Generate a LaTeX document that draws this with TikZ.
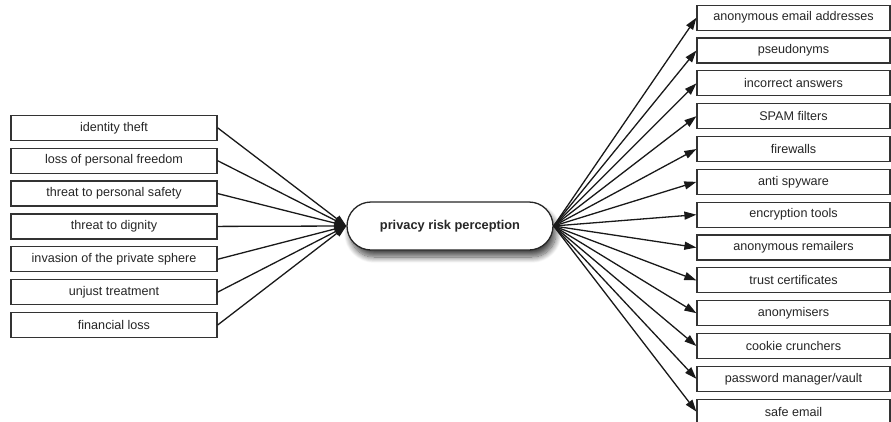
\documentclass[tikz,border=0pt]{standalone}
\usepackage{fontspec}
\setmainfont{Liberation Sans}
\usetikzlibrary{arrows.meta,shadows.blur}

\tikzset{
  itembox/.style={draw=black!80, line width=1.2pt, fill=white, minimum height=25pt,
    inner sep=0pt, text=black!85, font=\fontsize{12.6}{15}\selectfont},
  leftbox/.style={itembox, minimum width=206pt},
  rightbox/.style={itembox, minimum width=193pt},
  centre/.style={draw=black!85, line width=1.3pt, fill=white, minimum width=206pt,
    minimum height=48pt, rounded corners=24pt, inner sep=0pt,
    font=\bfseries\fontsize{12.8}{15}\selectfont, text=black!85,
    blur shadow={shadow xshift=3pt, shadow yshift=-7pt, shadow blur radius=6pt,
      shadow blur steps=12, shadow opacity=70}},
  link/.style={draw=black!90, line width=1.3pt,
    -{Triangle[length=12pt, width=8pt]}}
}

\begin{document}
\begin{tikzpicture}[x=1pt, y=1pt]
  \useasboundingbox (0,0) rectangle (891,-421);
  \clip (0,0) rectangle (891,-421);

  % central concept
  \node[centre] (C) at (450,-226) {privacy risk perception};

  % risks on the left
  \foreach \t [count=\i from 0] in {identity theft, loss of personal freedom,
      threat to personal safety, threat to dignity,
      invasion of the private sphere, unjust treatment, financial loss}{
    \node[leftbox] (L\i) at (114,{-127.8-32.87*\i}) {\t};
    \draw[link] (L\i.east) -- (C.west);
  }

  % protective measures on the right
  \foreach \t [count=\i from 0] in {anonymous email addresses, pseudonyms,
      incorrect answers, SPAM filters, firewalls, anti spyware,
      encryption tools, anonymous remailers, trust certificates,
      anonymisers, cookie crunchers, password manager/vault, safe email}{
    \node[rightbox] (R\i) at (793.5,{-17.7-32.83*\i}) {\t};
    \draw[link] (C.east) -- (R\i.west);
  }
\end{tikzpicture}
\end{document}
